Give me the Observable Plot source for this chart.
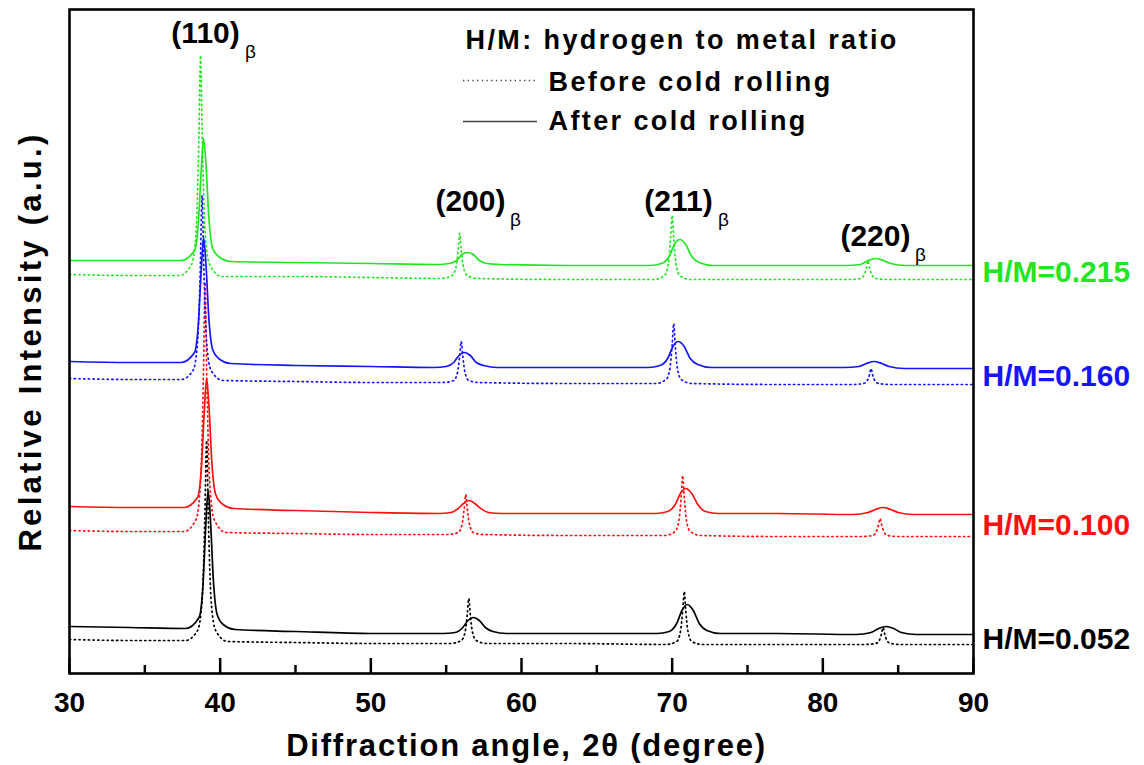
<!DOCTYPE html>
<html><head><meta charset="utf-8">
<script src="https://cdn.jsdelivr.net/npm/d3@7"></script>
<script src="https://cdn.jsdelivr.net/npm/@observablehq/plot@0.6"></script>
<style>
html,body{margin:0;padding:0;background:#fff;}
#chart svg{display:block;}
text[aria-label="legend text"]{letter-spacing:2.4px;}
text[aria-label="x title"]{letter-spacing:1.8px;}
text[aria-label="y title"]{letter-spacing:3.3px;}
</style></head><body><div id="chart"></div>
<script>
// 2θ angle ticks
const angleTicks = [30, 40, 50, 60, 70, 80, 90];
const minorTicks = [35, 45, 55, 65, 75, 85];

// [2θ (degree), relative intensity (a.u.)]
const before052 = [[30,34],[34,33],[37.7,33],[38.5,43],[38.8,73],[38.98,153],[39.1,233],[39.22,153],[39.4,73],[39.7,43],[40.5,32],[45,31],[50,30],[55.3,30],[56.0,33],[56.25,41],[56.4,59],[56.5,75],[56.6,59],[56.75,41],[57.0,33],[57.7,30],[63,30],[69.6,29],[70.3,32],[70.55,42],[70.7,63],[70.8,82],[70.9,63],[71.05,42],[71.3,32],[72.0,29],[77,29],[82.8,29],[83.5,30],[83.75,33],[83.9,40],[84.0,46],[84.1,40],[84.25,33],[84.5,30],[85.2,29],[90,29]];
const after052 = [[30,47],[34,46],[37.7,45],[38.6,56],[38.85,86],[39.05,149],[39.2,183],[39.35,155],[39.55,93],[39.8,59],[40.2,49],[41,44],[45,42],[50,40],[54.8,40],[55.6,41],[56.1,46],[56.45,53],[56.8,56],[57.2,53],[57.6,46],[58.1,42],[59,40],[63,40],[69,40],[69.8,42],[70.3,50],[70.65,63],[71,69],[71.4,63],[71.8,50],[72.3,43],[73.2,40],[77,40],[82.2,39],[83.2,41],[83.7,45],[84.2,47],[84.7,45],[85.2,41],[86.2,39],[90,39]];
const before100 = [[30,143],[34,142],[37.6,142],[38.4,154],[38.7,192],[38.88,291],[39.0,391],[39.12,291],[39.3,192],[39.6,154],[40.4,141],[45,140],[50,139],[55.1,139],[55.8,141],[56.05,149],[56.2,165],[56.3,179],[56.4,165],[56.55,149],[56.8,141],[57.5,139],[63,138],[69.5,138],[70.2,142],[70.45,153],[70.6,177],[70.7,198],[70.8,177],[70.95,153],[71.2,142],[71.9,138],[77,137],[82.6,137],[83.3,138],[83.55,142],[83.7,149],[83.8,155],[83.9,149],[84.05,142],[84.3,138],[85.0,137],[90,137]];
const after100 = [[30,167],[34,166],[37.6,166],[38.5,176],[38.75,205],[38.95,263],[39.1,295],[39.25,269],[39.45,211],[39.7,179],[40.1,170],[40.9,165],[45,163],[50,161],[54.5,160],[55.3,161],[55.8,165],[56.15,170],[56.5,173],[56.9,170],[57.3,165],[57.8,161],[58.7,160],[63,160],[68.9,160],[69.7,162],[70.2,169],[70.55,180],[70.9,185],[71.3,180],[71.7,169],[72.2,162],[73.1,160],[77,160],[82,159],[83,161],[83.5,164],[84,166],[84.5,164],[85,161],[86,159],[90,159]];
const before160 = [[30,295],[34,294],[37.4,294],[38.2,303],[38.5,331],[38.68,404],[38.8,478],[38.92,404],[39.1,331],[39.4,303],[40.2,293],[45,292],[50,291],[54.8,291],[55.5,293],[55.75,301],[55.9,318],[56.0,332],[56.1,318],[56.25,301],[56.5,293],[57.2,291],[63,290],[68.9,290],[69.6,294],[69.85,305],[70.0,329],[70.1,350],[70.2,329],[70.35,305],[70.6,294],[71.3,290],[77,289],[82.0,289],[82.7,290],[82.95,293],[83.1,299],[83.2,305],[83.3,299],[83.45,293],[83.7,290],[84.4,289],[90,289]];
const after160 = [[30,312],[34,311],[37.4,311],[38.3,321],[38.55,349],[38.75,405],[38.9,436],[39.05,411],[39.25,355],[39.5,324],[39.9,315],[40.7,310],[45,308],[50,307],[54.2,306],[55.0,307],[55.5,311],[55.85,318],[56.2,321],[56.6,318],[57.0,311],[57.5,308],[58.4,306],[63,306],[68.4,306],[69.2,308],[69.7,315],[70.05,327],[70.4,332],[70.8,327],[71.2,315],[71.7,309],[72.6,306],[77,306],[81.4,306],[82.4,307],[82.9,310],[83.4,312],[83.9,310],[84.4,307],[85.4,305],[90,305]];
const before215 = [[30,399],[34,398],[37.3,398],[38.1,409],[38.4,442],[38.58,530],[38.7,618],[38.82,530],[39.0,442],[39.3,409],[40.1,397],[45,397],[50,396],[54.7,395],[55.4,398],[55.65,406],[55.8,424],[55.9,440],[56.0,424],[56.15,406],[56.4,398],[57.1,395],[63,394],[68.8,394],[69.5,398],[69.75,410],[69.9,436],[70.0,458],[70.1,436],[70.25,410],[70.5,398],[71.2,394],[77,394],[81.8,394],[82.5,395],[82.75,399],[82.9,406],[83.0,413],[83.1,406],[83.25,399],[83.5,395],[84.2,394],[90,394]];
const after215 = [[30,413],[34,413],[37.4,413],[38.3,423],[38.55,450],[38.75,505],[38.9,535],[39.05,511],[39.25,456],[39.5,425],[39.9,417],[40.7,412],[45,411],[50,410],[54.4,409],[55.2,410],[55.7,413],[56.05,419],[56.4,421],[56.8,419],[57.2,413],[57.7,410],[58.6,409],[63,408],[68.5,408],[69.3,410],[69.8,417],[70.15,429],[70.5,434],[70.9,429],[71.3,417],[71.8,411],[72.7,408],[77,408],[81.5,408],[82.5,409],[83.0,413],[83.5,415],[84.0,413],[84.5,410],[85.5,408],[90,408]];

const ratios = ["0.052", "0.100", "0.160", "0.215"];
const colors = ["#000000", "#ff1010", "#1414ff", "#22e622"];
const beforeSeries = [before052, before100, before160, before215];
const afterSeries = [after052, after100, after160, after215];

// reflection annotations (label centre angle, label baseline level)
const peakLabels = ["(110)", "(200)", "(211)", "(220)"];
const peakAngles = [39.03, 56.61, 70.42, 83.49];
const peakLevels = [631, 463, 463, 428];

const legendLabels = ["Before cold rolling", "After cold rolling"];
const legendTitle = "H/M: hydrogen to metal ratio";

const series = ratios.map((r, i) => ({ratio: r, color: colors[i], before: beforeSeries[i], after: afterSeries[i]}));
const peaks = peakLabels.map((h, i) => ({hkl: h, angle: peakAngles[i], level: peakLevels[i]}));

const font = "'Liberation Sans', Arial, Helvetica, sans-serif";
const dotted = "1.3,3.4";
const marks = [];
series.forEach(s => {
  marks.push(Plot.line(s.before, {x: d => d[0], y: d => d[1], stroke: s.color, strokeWidth: 1.7, strokeDasharray: dotted, curve: "monotone-x"}));
  marks.push(Plot.line(s.after, {x: d => d[0], y: d => d[1], stroke: s.color, strokeWidth: 1.7, curve: "monotone-x"}));
});

const chart = Plot.plot({
  width: 1144,
  height: 765,
  marginLeft: 69,
  marginRight: 171,
  marginTop: 9,
  marginBottom: 92,
  style: {fontFamily: font, background: "#fff", color: "#000", overflow: "visible"},
  x: {domain: [30, 90]},
  y: {domain: [0, 664], axis: null},
  color: {type: "identity"},
  marks: [
    ...marks,
    Plot.ruleX(angleTicks, {insetTop: 649, stroke: "#000", strokeWidth: 2.5}),
    Plot.ruleX(minorTicks, {insetTop: 656, stroke: "#000", strokeWidth: 2.5}),
    Plot.frame({stroke: "#000", strokeWidth: 2.6}),
    Plot.axisX({ticks: angleTicks, tickSize: 0, tickPadding: 19, fontSize: 28, fontWeight: "bold", label: null, tickFormat: d => String(d)}),
    Plot.text(["Diffraction angle, 2θ (degree)"], {frameAnchor: "bottom", textAnchor: "middle", dx: 5, dy: 82, lineAnchor: "bottom", fontSize: 31, fontWeight: "bold", ariaLabel: () => "x title"}),
    Plot.text(["Relative Intensity (a.u.)"], {frameAnchor: "left", textAnchor: "middle", lineAnchor: "middle", dx: -38, rotate: -90, fontSize: 31, fontWeight: "bold", ariaLabel: () => "y title"}),
    Plot.text(series, {x: () => 90, y: s => (s.after[s.after.length - 1][1] + s.before[s.before.length - 1][1]) / 2, text: s => "H/M=" + s.ratio, fill: s => s.color, textAnchor: "start", dx: 9, fontSize: 30, fontWeight: "bold"}),
    Plot.text(peaks, {x: "angle", y: "level", text: "hkl", lineAnchor: "bottom", fontSize: 30, fontWeight: "bold"}),
    Plot.text(peaks, {x: "angle", y: "level", text: () => "β", dx: 45, dy: 2, lineAnchor: "top", fontSize: 19}),
    Plot.text([legendTitle], {frameAnchor: "top-left", dx: 396, dy: 39, textAnchor: "start", lineAnchor: "bottom", fontSize: 27, fontWeight: "bold", ariaLabel: () => "legend text"}),
    Plot.text([legendLabels[0]], {frameAnchor: "top-left", dx: 479, dy: 81, textAnchor: "start", lineAnchor: "bottom", fontSize: 27, fontWeight: "bold", ariaLabel: () => "legend text"}),
    Plot.text([legendLabels[1]], {frameAnchor: "top-left", dx: 479, dy: 120, textAnchor: "start", lineAnchor: "bottom", fontSize: 27, fontWeight: "bold", ariaLabel: () => "legend text"}),
    Plot.ruleY([593], {x1: 56.15, x2: 61.06, stroke: "#444", strokeWidth: 1.5, strokeDasharray: dotted}),
    Plot.ruleY([552], {x1: 56.15, x2: 61.06, stroke: "#444", strokeWidth: 1.5})
  ]
});
document.getElementById("chart").appendChild(chart);
</script></body></html>
